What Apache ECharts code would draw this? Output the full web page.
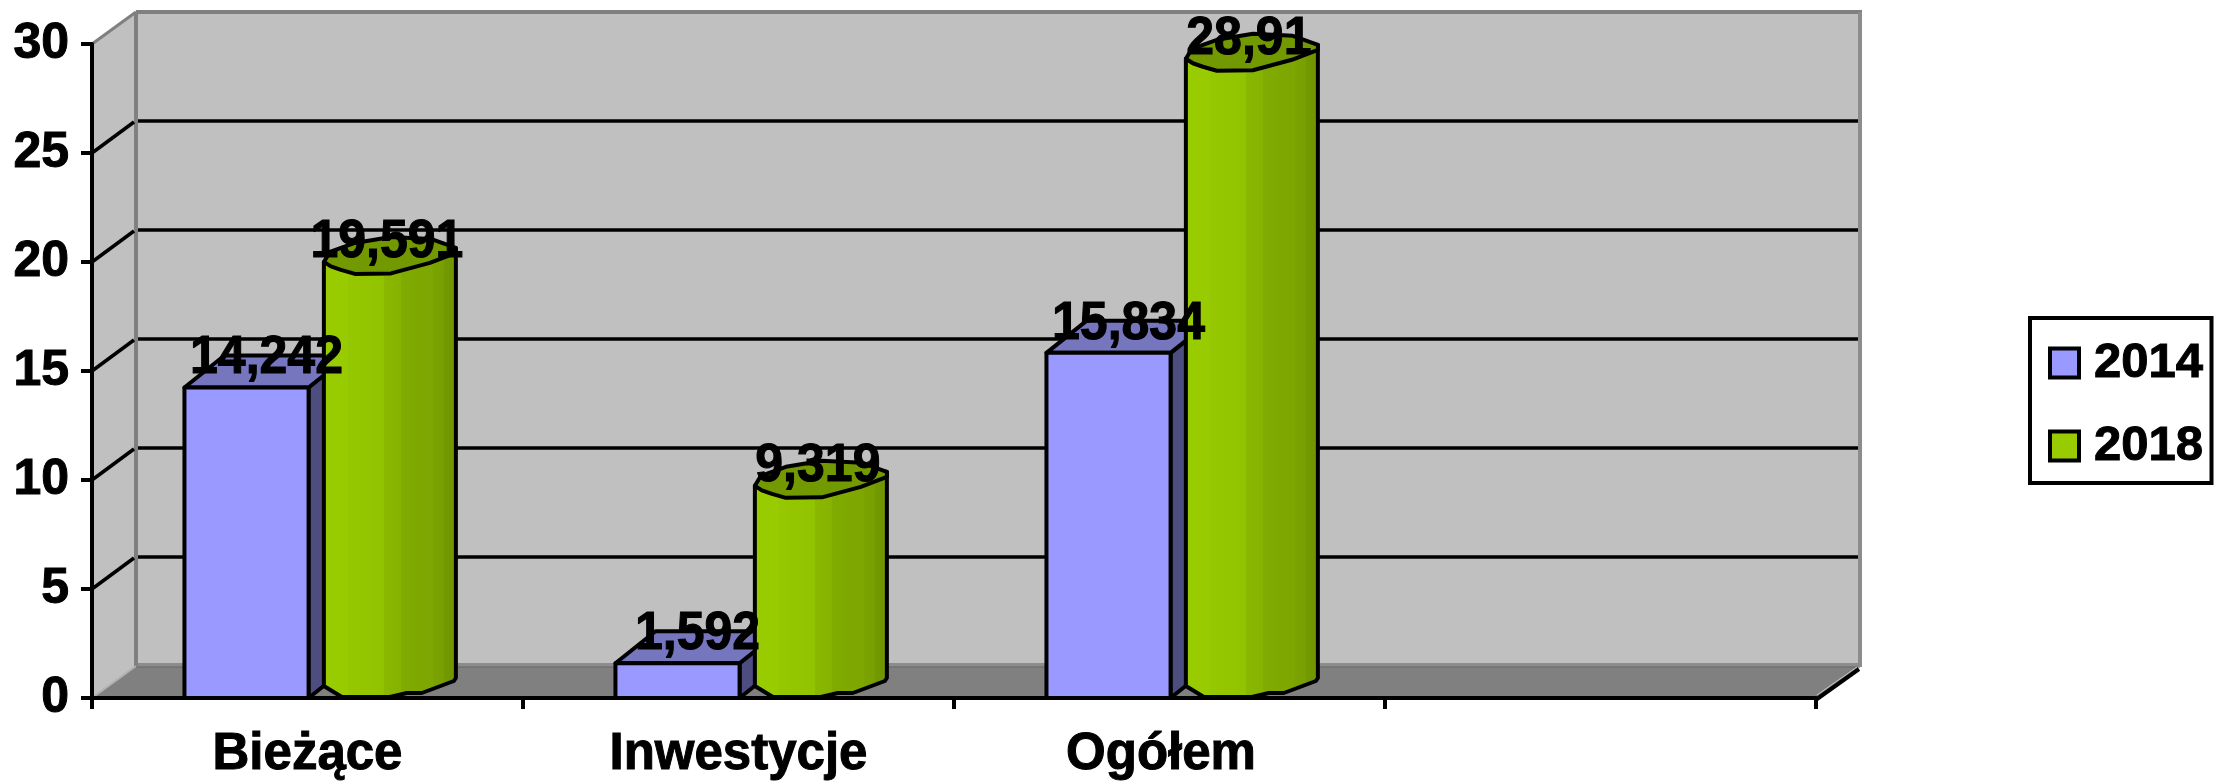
<!DOCTYPE html>
<html>
<head>
<meta charset="utf-8">
<style>html,body{margin:0;padding:0;background:#fff}#c{width:2215px;height:783px}</style>
<script src="https://cdn.jsdelivr.net/npm/echarts@6/dist/echarts.min.js"></script>
</head>
<body>
<div id="c"></div>
<script>
const categories = ['Bieżące', 'Inwestycje', 'Ogółem', ''];
const values2014 = [14.242, 1.592, 15.834];
const values2018 = [19.591, 9.319, 28.91];
const seriesNames = ['2014', '2018'];
const yTicks = [0, 5, 10, 15, 20, 25, 30];

const FAMILY = '"Liberation Sans", Arial, sans-serif';
const FONT = 'bold 50px ' + FAMILY;
const DX = 44, DY = 32;
const LW = 4;
const OUT = {stroke: '#000', lineWidth: LW, lineJoin: 'round'};

function wallItem(params, api) {
  const v = api.value(0);
  const cs = params.coordSys;
  const y = api.coord([0, v])[1];
  const L = cs.x, R = cs.x + cs.width, B = cs.y + cs.height, T = cs.y;
  const kids = [];
  if (v === 0) {
    kids.push(
      {type: 'polygon', shape: {points: [[L, T], [L + DX, T - DY], [L + DX, B - DY], [L, B]]}, style: {fill: '#c0c0c0'}},
      {type: 'rect', shape: {x: L + DX, y: T - DY, width: cs.width, height: cs.height}, style: {fill: '#c0c0c0'}},
      {type: 'polygon', shape: {points: [[L, B], [R, B], [R + DX, B - DY], [L + DX, B - DY]]}, style: {fill: '#808080'}},
      {type: 'rect', shape: {x: L + DX, y: B - DY - 3, width: cs.width, height: 4}, style: {fill: '#8c8c8c'}},
      {type: 'line', shape: {x1: L + DX, y1: B - DY + 1, x2: R + DX, y2: B - DY + 1}, style: {stroke: '#666', lineWidth: 1}},
      {type: 'line', shape: {x1: L + DX, y1: T - DY, x2: R + DX + 2, y2: T - DY}, style: {stroke: '#808080', lineWidth: 4}},
      {type: 'line', shape: {x1: L + DX, y1: T - DY, x2: L + DX, y2: B - DY}, style: {stroke: '#808080', lineWidth: 4}},
      {type: 'line', shape: {x1: R + DX, y1: T - DY, x2: R + DX, y2: B - DY + 1}, style: {stroke: '#8c8c8c', lineWidth: 4}},
      {type: 'line', shape: {x1: L, y1: T, x2: L + DX, y2: T - DY}, style: {stroke: '#808080', lineWidth: 3}},
      {type: 'line', shape: {x1: L, y1: B, x2: L + DX, y2: B - DY}, style: {stroke: '#b0b0b0', lineWidth: 2}},
      {type: 'line', shape: {x1: R + 1, y1: B - 3, x2: R + DX - 3, y2: B - DY + 1}, style: {stroke: '#c8c8c8', lineWidth: 1}},
      {type: 'line', shape: {x1: R + 1, y1: B + 1, x2: R + DX - 1, y2: B - DY + 3}, style: {stroke: '#000', lineWidth: 4}}
    );
  } else if (v < 30) {
    kids.push(
      {type: 'line', shape: {x1: L + DX + 2, y1: y - DY, x2: R + DX - 2, y2: y - DY}, style: {stroke: '#000', lineWidth: 3.5}},
      {type: 'line', shape: {x1: L, y1: y, x2: L + DX - 2, y2: y - DY + 1}, style: {stroke: '#000', lineWidth: 3.5}}
    );
  }
  return {type: 'group', children: kids};
}

function labelText(v) { return String(v).replace('.', ','); }

function dataLabel(x, y, v) {
  return {type: 'text', x: x, y: y, scaleY: 1.08, z2: 100,
    style: {text: labelText(v), font: FONT, fill: '#000', stroke: '#000', lineWidth: 1, align: 'center', verticalAlign: 'middle'}};
}

function boxItem(params, api) {
  const p = api.coord([api.value(0), api.value(1)]);
  const base = api.coord([api.value(0), 0])[1];
  const band = api.size([1, 0])[0];
  const x0 = p[0] - band / 2 + band * 0.2145, x1 = x0 + band * 0.288, Y = p[1];
  const bx = DX - 4, by = DY;
  return {type: 'group', children: [
    {type: 'polygon', shape: {points: [[x1, Y], [x1 + bx, Y - by], [x1 + bx, base - by], [x1, base]]}, style: Object.assign({fill: '#4d4d80'}, OUT)},
    {type: 'polygon', shape: {points: [[x0, Y], [x0 + bx, Y - by], [x1 + bx, Y - by], [x1, Y]]}, style: Object.assign({fill: '#7676bf'}, OUT)},
    {type: 'rect', shape: {x: x0, y: Y, width: x1 - x0, height: base - Y}, style: Object.assign({fill: '#9999ff'}, OUT)},
    dataLabel((x0 + x1) / 2 + 20, Y - 29, api.value(1))
  ]};
}

const topOutline = [[0, -9], [6, -19], [31, -28], [67, -34], [107, -32], [132, -23]];
const topFront = [[132, -18], [106, -8], [67, 2.5], [31, 3], [17, -1], [7, -4.5]];
const bottomEdge = [[132, -20], [130, -17], [98, -5], [83, -5], [66, -1], [18, -1], [0, -12]];

function cylItem(params, api) {
  const p = api.coord([api.value(0), api.value(1)]);
  const base = api.coord([api.value(0), 0])[1];
  const band = api.size([1, 0])[0];
  const x0 = p[0] - band / 2 + band * 0.538, Y = p[1];
  const top = a => [x0 + a[0], Y + a[1]];
  const bot = a => [x0 + a[0], base + a[1]];
  const grad = new echarts.graphic.LinearGradient(0, 0, 1, 0, [
    {offset: 0, color: '#99cc00'}, {offset: 0.19, color: '#99cc00'},
    {offset: 0.19, color: '#96c800'}, {offset: 0.46, color: '#92c300'},
    {offset: 0.46, color: '#8ab800'}, {offset: 0.58, color: '#86b300'},
    {offset: 0.58, color: '#80ab00'}, {offset: 0.82, color: '#7da600'},
    {offset: 0.82, color: '#7aa300'}, {offset: 0.9, color: '#789f00'},
    {offset: 0.9, color: '#739900'}, {offset: 1, color: '#6f9400'}
  ]);
  const body = [top([0, -9])].concat(bottomEdge.slice().reverse().map(bot), [top([132, -23])]);
  return {type: 'group', children: [
    {type: 'polygon', shape: {points: body}, style: Object.assign({fill: grad}, OUT)},
    {type: 'polygon', shape: {points: topOutline.concat(topFront).map(top)}, style: Object.assign({fill: '#739900'}, OUT)},
    dataLabel(x0 + 63, Y - 29, api.value(1))
  ]};
}

const axisText = {color: '#000', fontWeight: 'bold', fontSize: 51, fontFamily: FAMILY, textBorderColor: '#000', textBorderWidth: 1};

const chart = echarts.init(document.getElementById('c'), null, {renderer: 'canvas'});
chart.setOption({
  animation: false,
  backgroundColor: '#fff',
  textStyle: {fontFamily: FAMILY},
  grid: {left: 92, right: 399, top: 44, bottom: 85, containLabel: false},
  legend: {
    show: true, orient: 'vertical', left: 2030, top: 318,
    padding: [20, 8, 12, 18], itemGap: 33, itemWidth: 29, itemHeight: 29,
    backgroundColor: '#fff', borderColor: '#000', borderWidth: 4, borderRadius: 0,
    icon: 'rect', selectedMode: false,
    itemStyle: {borderColor: '#000', borderWidth: 4},
    textStyle: {color: '#000', fontWeight: 'bold', fontSize: 49, lineHeight: 50, padding: [0, 0, 0, 10], fontFamily: FAMILY, textBorderColor: '#000', textBorderWidth: 1},
    data: seriesNames
  },
  xAxis: {
    type: 'category', data: categories, z: 2,
    axisLine: {lineStyle: {color: '#000', width: 4}},
    axisTick: {show: true, length: 11, lineStyle: {color: '#000', width: 4}},
    axisLabel: Object.assign({}, axisText, {
      margin: 31, interval: 0,
      formatter: function (name) { return name === 'Ogółem' ? '{o|' + name + '}' : name; },
      rich: {o: Object.assign({}, axisText, {padding: [0, 17, 0, 0]})}
    }),
    splitLine: {show: false}
  },
  yAxis: {
    type: 'value', min: 0, max: 30, interval: 5, z: 2,
    axisLine: {show: true, lineStyle: {color: '#000', width: 4}},
    axisTick: {show: true, length: 11, lineStyle: {color: '#000', width: 4}},
    axisLabel: Object.assign({}, axisText, {fontSize: 50, margin: 23, padding: [6, 0, 0, 0]}),
    splitLine: {show: false}
  },
  series: [
    {type: 'custom', name: 'wall', z: 1, silent: true, coordinateSystem: 'cartesian2d', encode: {x: -1, y: 0}, clip: false,
      renderItem: wallItem, data: yTicks.map(v => [v])},
    {type: 'custom', name: seriesNames[0], z: 3, clip: false, encode: {x: 0, y: 1},
      itemStyle: {color: '#9999ff'}, renderItem: boxItem,
      data: values2014.map((v, i) => [i, v])},
    {type: 'custom', name: seriesNames[1], z: 3, clip: false, encode: {x: 0, y: 1},
      itemStyle: {color: '#99cc00'}, renderItem: cylItem,
      data: values2018.map((v, i) => [i, v])}
  ]
});
</script>
</body>
</html>
